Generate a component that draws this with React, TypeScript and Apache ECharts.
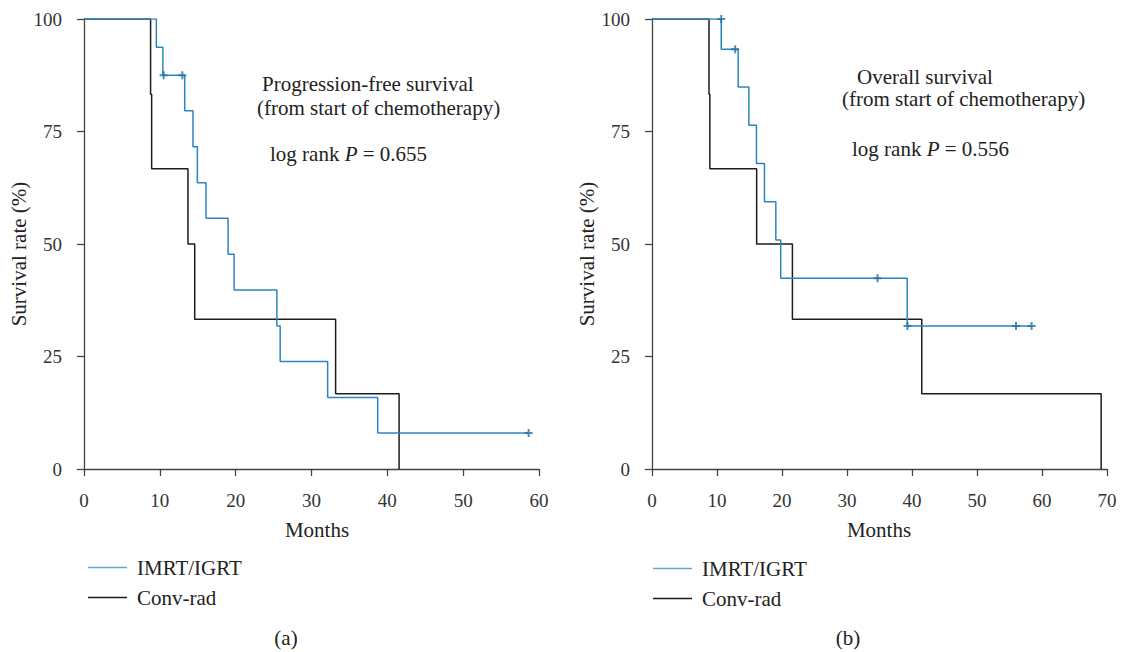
import React, { useEffect, useRef } from "react";
import * as echarts from "echarts";

const FONT = "'Liberation Serif', 'Times New Roman', serif";
const BLUE = "#2b86c0";
const BLACK = "#1c1c1c";
const AXIS = "#444";

const seriesNames = ["IMRT/IGRT", "Conv-rad"];
const yTicks = [0, 25, 50, 75, 100];

// Panel (a): Progression-free survival
const pfsImrt: [number, number][] = [
  [0, 100], [9.54, 93.75], [10.4, 87.5], [13.28, 79.6], [14.37, 71.6], [14.95, 63.6],
  [16.09, 55.7], [19.0, 47.7], [19.79, 39.8], [25.43, 31.8], [25.87, 23.9],
  [32.13, 15.9], [38.73, 8.0], [58.63, 8.0],
];
const pfsImrtCensor: [number, number][] = [[10.5, 87.5], [12.97, 87.5], [58.63, 8.0]];
const pfsConv: [number, number][] = [
  [0, 100], [8.78, 83.3], [8.92, 66.7], [13.71, 50], [14.6, 33.3], [33.18, 16.7], [41.55, 0],
];

// Panel (b): Overall survival
const osImrt: [number, number][] = [
  [0, 100], [10.65, 93.3], [13.26, 84.9], [14.9, 76.4], [16.07, 67.9], [17.3, 59.4],
  [19.05, 50.9], [19.8, 42.4], [39.26, 31.8], [58.4, 31.8],
];
const osImrtCensor: [number, number][] = [
  [10.65, 100], [12.8, 93.3], [34.7, 42.4], [39.3, 31.8], [56.0, 31.8], [58.4, 31.8],
];
const osConv: [number, number][] = [
  [0, 100], [8.77, 83.3], [8.9, 66.7], [16.1, 50], [21.6, 33.3], [41.5, 16.7], [69.1, 0],
];

const xMaxA = 60;
const xMaxB = 70;

const PLUS = "path://M3,0H5V3H8V5H5V8H3V5H0V3H3Z";

function makeXAxis(gridIndex: number, max: number) {
  return {
    type: "value",
    gridIndex,
    min: 0,
    max,
    interval: 10,
    axisLine: { show: true, onZero: false, lineStyle: { color: AXIS, width: 1.3 } },
    axisTick: { show: true, length: 7, lineStyle: { color: AXIS, width: 1.3 } },
    axisLabel: { fontSize: 19, fontFamily: FONT, color: "#333", margin: 22 },
    splitLine: { show: false },
  };
}
function makeYAxis(gridIndex: number) {
  return {
    type: "value",
    gridIndex,
    min: yTicks[0],
    max: yTicks[yTicks.length - 1],
    interval: 25,
    axisLine: { show: true, onZero: false, lineStyle: { color: AXIS, width: 1.3 } },
    axisTick: { show: true, length: 7, lineStyle: { color: AXIS, width: 1.3 } },
    axisLabel: { fontSize: 19, fontFamily: FONT, color: "#333", margin: 22 },
    splitLine: { show: false },
  };
}

function lineSeries(name: string, data: [number, number][], idx: number, color: string, z: number) {
  return {
    name,
    type: "line",
    xAxisIndex: idx,
    yAxisIndex: idx,
    step: "end",
    symbol: "none",
    showSymbol: false,
    data,
    z,
    lineStyle: { color, width: 1.5 },
    itemStyle: { color },
  };
}
function censorSeries(data: [number, number][], idx: number) {
  return {
    name: "censored",
    type: "scatter",
    xAxisIndex: idx,
    yAxisIndex: idx,
    symbol: PLUS,
    symbolSize: 8,
    data,
    z: 5,
    itemStyle: { color: "#1f6fa5" },
  };
}

function txt(x: number, y: number, text: string, opts: any = {}) {
  return {
    type: "text",
    x,
    y,
    rotation: opts.rotation || 0,
    style: {
      text,
      fontSize: opts.fontSize || 21,
      fontFamily: FONT,
      fill: "#222",
      align: opts.align || "left",
      verticalAlign: "middle",
      rich: opts.rich,
    },
  };
}

const richP = {
  i: { fontStyle: "italic", fontSize: 21, fontFamily: FONT, fill: "#222" },
};

export default function App() {
  const ref = useRef<HTMLDivElement>(null);
  useEffect(() => {
    if (!ref.current) return;
    const chart = echarts.init(ref.current, undefined, { renderer: "svg" });
    const legendBase = {
      orient: "vertical",
      icon: "rect",
      itemWidth: 39,
      itemHeight: 1.5,
      itemGap: 9,
      selectedMode: false,
      data: [
        { name: seriesNames[0], itemStyle: { color: "#62a8d2" } },
        { name: seriesNames[1], itemStyle: { color: BLACK } },
      ],
      textStyle: { fontSize: 21, fontFamily: FONT, color: "#222", padding: [0, 0, 0, 5] },
    };
    chart.setOption({
      animation: false,
      backgroundColor: "#fff",
      grid: [
        { left: 84, top: 19, width: 455, height: 450 },
        { left: 652, top: 19, width: 455, height: 450 },
      ],
      xAxis: [makeXAxis(0, xMaxA), makeXAxis(1, xMaxB)],
      yAxis: [makeYAxis(0), makeYAxis(1)],
      legend: [
        { ...legendBase, left: 83, top: 552 },
        { ...legendBase, left: 648, top: 553 },
      ],
      series: [
        lineSeries("Conv-rad", pfsConv, 0, BLACK, 2),
        lineSeries("IMRT/IGRT", pfsImrt, 0, BLUE, 3),
        censorSeries(pfsImrtCensor, 0),
        lineSeries("Conv-rad", osConv, 1, BLACK, 2),
        lineSeries("IMRT/IGRT", osImrt, 1, BLUE, 3),
        censorSeries(osImrtCensor, 1),
      ],
      graphic: [
        txt(19, 254, "Survival rate (%)", { rotation: Math.PI / 2, align: "center" }),
        txt(587, 254, "Survival rate (%)", { rotation: Math.PI / 2, align: "center" }),
        txt(317, 530, "Months", { align: "center" }),
        txt(879, 530, "Months", { align: "center" }),
        txt(286, 638, "(a)", { align: "center" }),
        txt(848, 638, "(b)", { align: "center" }),
        txt(262, 84, "Progression-free survival"),
        txt(257, 108, "(from start of chemotherapy)"),
        txt(270, 154, "log rank {i|P} = 0.655", { rich: richP }),
        txt(857, 77, "Overall survival"),
        txt(842, 99, "(from start of chemotherapy)"),
        txt(852, 149, "log rank {i|P} = 0.556", { rich: richP }),
      ],
    });
    return () => chart.dispose();
  }, []);
  return (
    <div
      ref={ref}
      style={{ position: "absolute", left: 0, top: 0, width: 1123, height: 652 }}
    />
  );
}
